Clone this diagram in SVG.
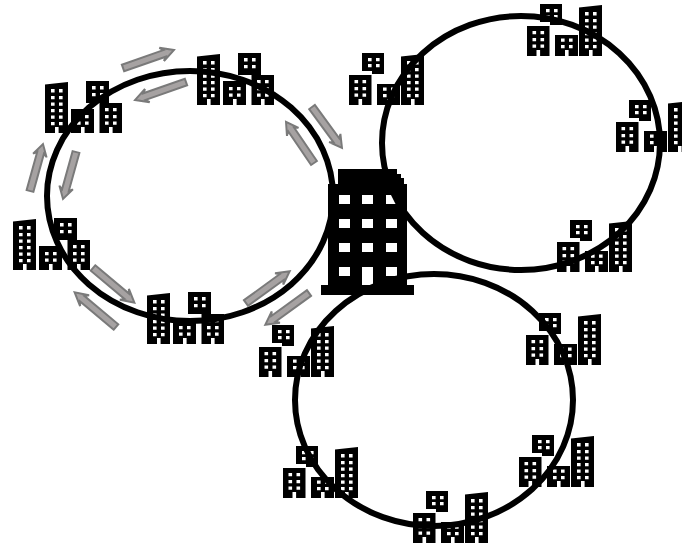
<svg xmlns="http://www.w3.org/2000/svg" width="682" height="546" viewBox="0 0 682 546">
<style>
.w{fill:#fff}
.ring{fill:none;stroke:#000;stroke-width:6}
.arrow{fill:#a6a2a2;stroke:#7a7a7a;stroke-width:2;stroke-linejoin:miter}
</style>
<defs>
<g id="tall"><path d="M0 2.500L23 0V51H0Z"/><path class="w" d="M6 7h3.600v3.600h-3.600zM14 7h3.600v3.600h-3.600zM6 14h3.600v3.200h-3.600zM14 14h3.600v3.200h-3.600zM6 20.500h3.600v3.200h-3.600zM14 20.500h3.600v3.200h-3.600zM6 27h3.600v3.200h-3.600zM14 27h3.600v3.200h-3.600zM6 33.500h3.600v3.200h-3.600zM14 33.500h3.600v3.200h-3.600zM6 40h3.600v3.200h-3.600zM14 40h3.600v3.200h-3.600zM10 45h3.600v6h-3.600z"/></g>
<g id="mid"><rect width="23" height="24"/><path class="w" d="M6 6h3.600v3.200h-3.600zM14 6h3.600v3.200h-3.600zM6 12.500h3.600v3.200h-3.600zM14 12.500h3.600v3.200h-3.600zM10 18h3.600v6h-3.600z"/></g>
<g id="midT"><rect width="23" height="21"/><path class="w" d="M6 3.500h3.600v3.200h-3.600zM14 3.500h3.600v3.200h-3.600zM6 10h3.600v3.200h-3.600zM14 10h3.600v3.200h-3.600zM10 15h3.600v6h-3.600z"/></g>
<g id="top"><rect width="23" height="22"/><path class="w" d="M6 5h3.600v3.600h-3.600zM14 5h3.600v3.600h-3.600zM6 12h3.600v3.200h-3.600zM14 12h3.600v3.200h-3.600z"/></g>
<g id="topT"><rect width="22" height="18"/><rect x="10" y="17" width="12" height="4"/><path class="w" d="M6 5h3.600v3.200h-3.600zM14 5h3.600v3.200h-3.600zM6 11h3.600v3.200h-3.600zM14 11h3.600v3.200h-3.600z"/></g>
<g id="wide"><rect width="22.500" height="30"/><path class="w" d="M5.500 5h3.600v3.200h-3.600zM13.500 5h3.600v3.200h-3.600zM5.500 12h3.600v3.200h-3.600zM13.500 12h3.600v3.200h-3.600zM5.500 18.500h3.600v3.200h-3.600zM13.500 18.500h3.600v3.200h-3.600zM9.500 24h3.600v6h-3.600z"/></g>
<g id="L"><use href="#tall" x="0" y="1"/><use href="#top" x="41" y="0"/><use href="#mid" x="26" y="28"/><use href="#wide" x="54.500" y="22"/></g>
<g id="T"><use href="#wide" x="0" y="22"/><use href="#topT" x="13" y="0"/><use href="#midT" x="28" y="31"/><use href="#tall" x="52" y="1"/></g>
<polygon id="a" class="arrow" points="0,-3.500 44,-3.500 41,-7 54,0 41,7 44,3.500 0,3.500"/>
</defs>

<g id="cluster-left-1"><use href="#L" x="197" y="53"/></g>
<g id="cluster-left-2"><use href="#L" x="45" y="81"/></g>
<g id="cluster-left-3"><use href="#L" x="13" y="218"/></g>
<g id="cluster-left-4"><use href="#L" x="147" y="292"/></g>
<g id="cluster-right-1"><use href="#T" x="349" y="53"/></g>
<g id="cluster-right-2"><use href="#T" x="527" y="4"/></g>
<g id="cluster-right-3"><use href="#T" x="616" y="100"/></g>
<g id="cluster-right-4"><use href="#T" x="557" y="220"/></g>
<g id="cluster-bottom-1"><use href="#T" x="259" y="325"/></g>
<g id="cluster-bottom-2"><use href="#T" x="526" y="313"/></g>
<g id="cluster-bottom-3"><use href="#T" x="519" y="435"/></g>
<g id="cluster-bottom-4"><use href="#T" x="283" y="446"/></g>
<g id="cluster-bottom-5"><use href="#T" x="413" y="491"/></g>

<g id="center-building">
<path d="M338 169H397V174H401V178H404V184H407V285H414V295H321V285H328V184H338Z"/>
<path class="w" d="M339 195h11v9h-11zM362 195h11v9h-11zM386 195h11v9h-11zM339 219h11v9h-11zM362 219h11v9h-11zM386 219h11v9h-11zM339 243h11v9h-11zM362 243h11v9h-11zM386 243h11v9h-11zM339 267h11v9h-11zM386 267h11v9h-11zM362 267h11v18h-11z"/>
</g>

<g id="connectors">
<ellipse class="ring" cx="190" cy="196" rx="143" ry="125"/>
<ellipse class="ring" cx="521" cy="143" rx="139" ry="127"/>
<ellipse class="ring" cx="434" cy="400" rx="139" ry="126"/>
<use href="#a" transform="translate(123,68) rotate(-19.400)"/>
<use href="#a" transform="translate(186,82) rotate(160.600)"/>
<use href="#a" transform="translate(312,107) rotate(53.800) scale(.94,1)"/>
<use href="#a" transform="translate(314,163) rotate(-124.300) scale(.92,1)"/>
<use href="#a" transform="translate(246,303) rotate(-36)"/>
<use href="#a" transform="translate(309,293) rotate(144)"/>
<use href="#a" transform="translate(93,268) rotate(40)"/>
<use href="#a" transform="translate(116,327) rotate(220)"/>
<use href="#a" transform="translate(76,152) rotate(105.500) scale(.9,1)"/>
<use href="#a" transform="translate(30,191) rotate(-74.500) scale(.9,1)"/>
</g>
</svg>
